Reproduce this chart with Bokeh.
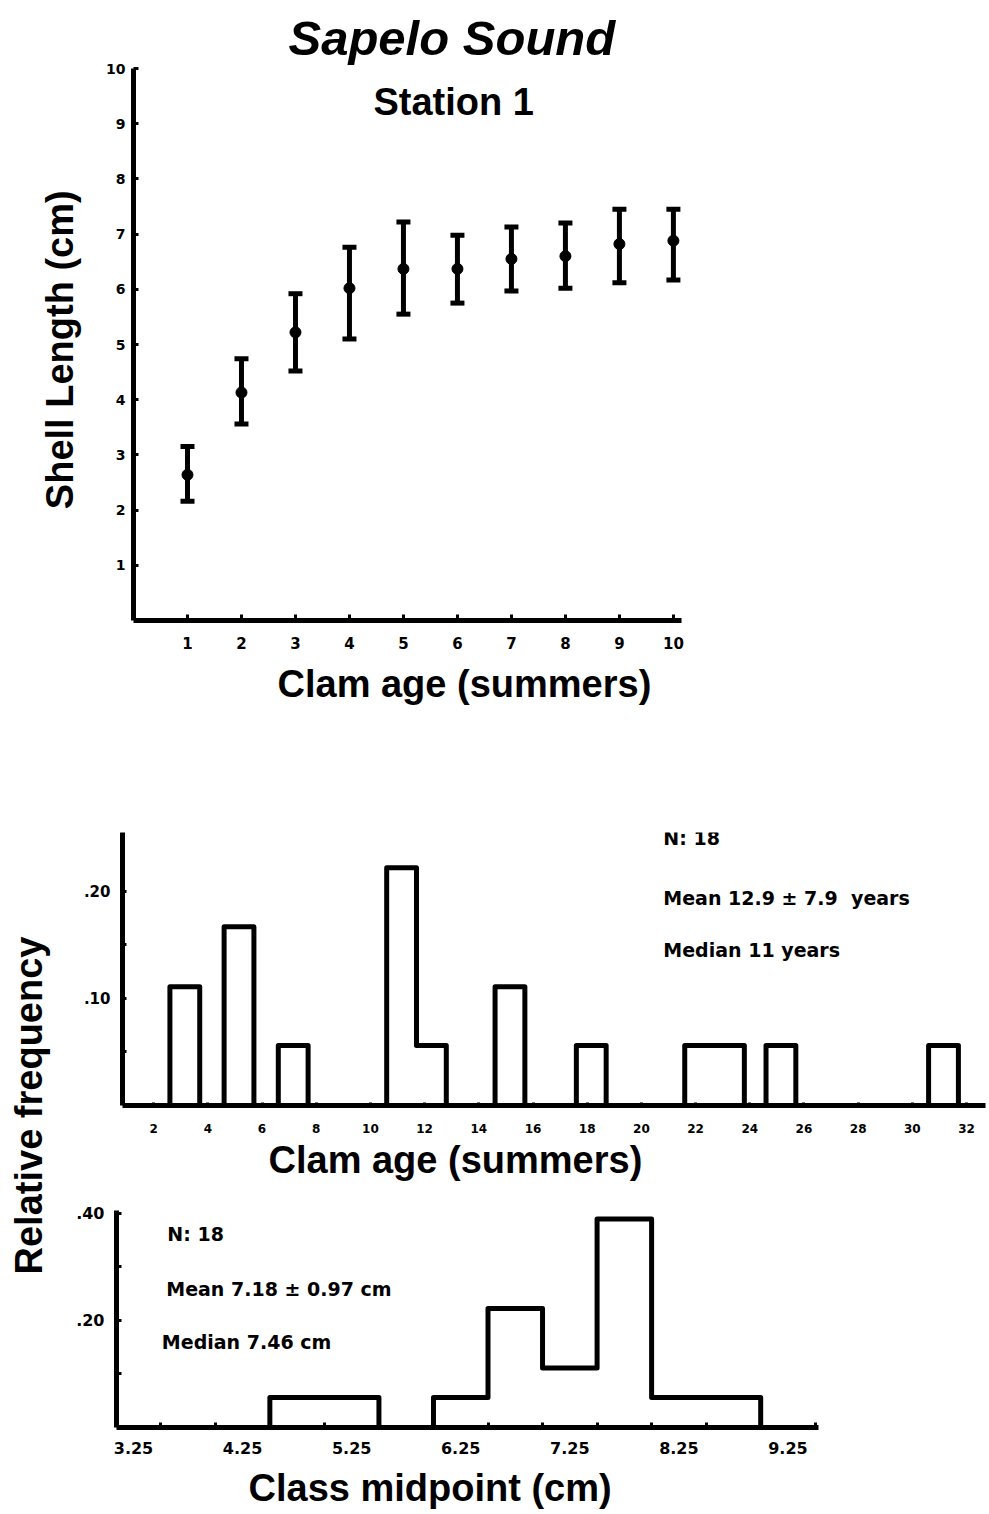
import math
from bokeh.plotting import figure
from bokeh.models import Label, FixedTicker, Whisker, TeeHead, ColumnDataSource, Title
from bokeh.layouts import column, row
from bokeh.embed import file_html
from bokeh.resources import INLINE

# ---------------- data ----------------
# Panel 1: shell length by clam age
clam_age = [1, 2, 3, 4, 5, 6, 7, 8, 9, 10]
shell_mean = [2.64, 4.13, 5.22, 6.02, 6.37, 6.37, 6.55, 6.60, 6.82, 6.88]
shell_low = [2.16, 3.56, 4.52, 5.10, 5.55, 5.75, 5.97, 6.02, 6.12, 6.17]
shell_high = [3.15, 4.74, 5.92, 6.76, 7.22, 6.98, 7.13, 7.20, 7.45, 7.45]
age_ticks = [1, 2, 3, 4, 5, 6, 7, 8, 9, 10]
len_ticks = [1, 2, 3, 4, 5, 6, 7, 8, 9, 10]

# Panel 2: age frequency distribution
hist_age = [3, 5, 7, 11, 12, 15, 18, 22, 23, 25, 31]
hist_age_freq = [0.111, 0.167, 0.056, 0.222, 0.056, 0.111, 0.056, 0.056, 0.056, 0.056, 0.056]
age_axis_ticks = [2, 4, 6, 8, 10, 12, 14, 16, 18, 20, 22, 24, 26, 28, 30, 32]
freq2_ticks = [0.10, 0.20]
freq2_labels = [".10", ".20"]
freq2_minor = [0.05, 0.15]
stats_age = ["N: 18", "Mean 12.9 \u00b1 7.9 \u00a0years", "Median 11 years"]

# Panel 3: length class frequency distribution
class_mid = [4.75, 5.25, 6.25, 6.75, 7.25, 7.75, 8.25, 8.75]
class_freq = [0.056, 0.056, 0.056, 0.222, 0.111, 0.389, 0.056, 0.056]
class_width = 0.5
mid_ticks = [3.25, 4.25, 5.25, 6.25, 7.25, 8.25, 9.25]
mid_minor = [3.5, 4.0, 4.5, 5.0, 5.5, 6.0, 6.5, 7.0, 7.5, 8.0, 8.5, 9.0, 9.5]
freq3_ticks = [0.20, 0.40]
freq3_labels = [".20", ".40"]
freq3_minor = [0.10, 0.30]
stats_len = ["N: 18", "Mean 7.18 \u00b1 0.97 cm", "Median 7.46 cm"]

# ---------------- style ----------------
BIG = "Liberation Sans"
SMALL = "DejaVu Sans"
LW = 5


def base_fig(fw, fh, bl, br, bt, bb, xr, yr):
    p = figure(frame_width=fw, frame_height=fh, x_range=xr, y_range=yr,
               output_backend="svg", toolbar_location=None,
               min_border_left=bl, min_border_right=br,
               min_border_top=bt, min_border_bottom=bb)
    p.grid.visible = False
    p.outline_line_color = None
    p.background_fill_color = "white"
    p.border_fill_color = "white"
    for ax in (p.xaxis[0], p.yaxis[0]):
        ax.axis_line_width = LW
        ax.axis_line_color = "black"
        ax.major_tick_line_width = 3
        ax.minor_tick_line_width = 3
        ax.major_tick_out = 0
        ax.minor_tick_out = 0
        ax.major_label_text_font = SMALL
        ax.major_label_text_font_style = "bold"
        ax.major_label_text_color = "black"
    return p


def step_outline(lefts, rights, heights):
    xs, ys = [], []
    cx, cy = None, None
    for l, r, h in zip(lefts, rights, heights):
        if cx is not None and abs(l - cx[-1]) < 1e-9:
            cx += [l, r]
            cy += [h, h]
        else:
            if cx is not None:
                cx.append(cx[-1]); cy.append(0)
                xs.append(cx); ys.append(cy)
            cx = [l, l, r]
            cy = [0, h, h]
    cx.append(cx[-1]); cy.append(0)
    xs.append(cx); ys.append(cy)
    return xs, ys


def add_text(p, x, y, text, size, font=BIG, style="bold", align="center", angle=0):
    p.add_layout(Label(x=x, y=y, text=text, text_font=font, text_font_style=style,
                       text_font_size=size, text_align=align, text_baseline="middle",
                       text_color="black", angle=angle))


def add_title(p, text, place, size, offset, standoff, style="bold"):
    p.add_layout(Title(text=text, align="left", offset=offset, standoff=standoff,
                       text_font=BIG, text_font_style=style, text_font_size=size,
                       text_color="black"), place)

# ---------------- panel 1 ----------------
p1 = base_fig(548, 552, 133, 308, 68, 110, (0, 10.15), (0, 10))
p1.xaxis.ticker = FixedTicker(ticks=age_ticks)
p1.yaxis.ticker = FixedTicker(ticks=len_ticks)
p1.xaxis.major_tick_in = 6
p1.yaxis.major_tick_in = 5
p1.xaxis.major_label_text_font_size = "15px"
p1.yaxis.major_label_text_font_size = "14px"
p1.xaxis.major_label_standoff = 16
p1.yaxis.major_label_standoff = 8
p1.yaxis.axis_label = "Shell Length  (cm)"
p1.yaxis.axis_label_text_font = BIG
p1.yaxis.axis_label_text_font_style = "bold"
p1.yaxis.axis_label_text_font_size = "38px"
p1.yaxis.axis_label_text_color = "black"
p1.yaxis.axis_label_standoff = 22

src1 = ColumnDataSource(dict(x=clam_age, m=shell_mean, lo=shell_low, hi=shell_high))
p1.add_layout(Whisker(source=src1, base="x", lower="lo", upper="hi",
                      line_width=5, line_color="black", level="underlay",
                      upper_head=TeeHead(size=14, line_width=5, line_color="black"),
                      lower_head=TeeHead(size=14, line_width=5, line_color="black")))
p1.scatter("x", "m", source=src1, size=11, color="black", marker="circle", level="overlay")

add_title(p1, "Sapelo Sound", "above", "49px", 155, 7, style="bold italic")
add_text(p1, 5.93, 9.40, "Station 1", "38px")
add_title(p1, "Clam age (summers)", "below", "38px", 144, 19)

# ---------------- panel 2 ----------------
p2 = base_fig(863, 273, 62, 4, 102, 80, (0.85, 32.7), (0, 0.255))
p2.xaxis.ticker = FixedTicker(ticks=age_axis_ticks)
p2.yaxis.ticker = FixedTicker(ticks=freq2_ticks, minor_ticks=freq2_minor)
p2.yaxis.major_label_overrides = dict(zip(freq2_ticks, freq2_labels))
p2.xaxis.major_tick_in = 3
p2.yaxis.major_tick_in = 4
p2.yaxis.minor_tick_in = 4
p2.xaxis.major_label_text_font_size = "12px"
p2.yaxis.major_label_text_font_size = "15px"
p2.xaxis.major_label_standoff = 18
p2.yaxis.major_label_standoff = 12

BAR_OFFSET = -0.4
BAR_W = 1.1
lefts2, rights2 = [], []
for i, a in enumerate(hist_age):
    if i > 0 and hist_age[i - 1] == a - 1:
        left = rights2[-1]
    else:
        left = a + BAR_OFFSET
    lefts2.append(left)
    rights2.append(left + BAR_W)
xs2, ys2 = step_outline(lefts2, rights2, hist_age_freq)
p2.multi_line(xs2, ys2, line_width=LW, line_color="black", line_join="round")

add_text(p2, 20.81, 0.2495, stats_age[0], "19px", font=SMALL, align="left")
add_text(p2, 20.81, 0.194, stats_age[1], "19px", font=SMALL, align="left")
add_text(p2, 20.81, 0.145, stats_age[2], "19px", font=SMALL, align="left")
add_title(p2, "Clam age (summers)", "below", "38px", 146, 2)

# ---------------- panel 3 ----------------
p3 = base_fig(702, 217, 56, 171, 25, 87, (3.094, 9.53), (0, 0.405))
p3.xaxis.ticker = FixedTicker(ticks=mid_ticks, minor_ticks=mid_minor)
p3.yaxis.ticker = FixedTicker(ticks=freq3_ticks, minor_ticks=freq3_minor)
p3.yaxis.major_label_overrides = dict(zip(freq3_ticks, freq3_labels))
p3.xaxis.major_tick_in = 0
p3.xaxis.minor_tick_in = 5
p3.yaxis.major_tick_in = 5
p3.yaxis.minor_tick_in = 5
p3.xaxis.major_label_text_font_size = "16px"
p3.yaxis.major_label_text_font_size = "16px"
p3.xaxis.major_label_standoff = 14
p3.yaxis.major_label_standoff = 12

lefts3 = [c - class_width / 2 for c in class_mid]
rights3 = [c + class_width / 2 for c in class_mid]
xs3, ys3 = step_outline(lefts3, rights3, class_freq)
p3.multi_line(xs3, ys3, line_width=LW, line_color="black", line_join="round")

add_text(p3, 3.56, 0.362, stats_len[0], "19px", font=SMALL, align="left")
add_text(p3, 3.55, 0.259, stats_len[1], "19px", font=SMALL, align="left")
add_text(p3, 3.51, 0.159, stats_len[2], "19px", font=SMALL, align="left")
add_title(p3, "Class midpoint (cm)", "below", "38px", 132, 16)

# ---------------- shared y label ----------------
pl = figure(frame_width=60, frame_height=784, x_range=(0, 60), y_range=(0, 784),
            output_backend="svg", toolbar_location=None, min_border=0,
            x_axis_type=None, y_axis_type=None)
pl.grid.visible = False
pl.outline_line_color = None
pl.border_fill_color = "white"
add_text(pl, 28, 409, "Relative frequency", "38px", angle=math.pi / 2)

layout = column(p1, row(pl, column(p2, row(p3))))
open("out.html", "w").write(file_html(layout, INLINE))
